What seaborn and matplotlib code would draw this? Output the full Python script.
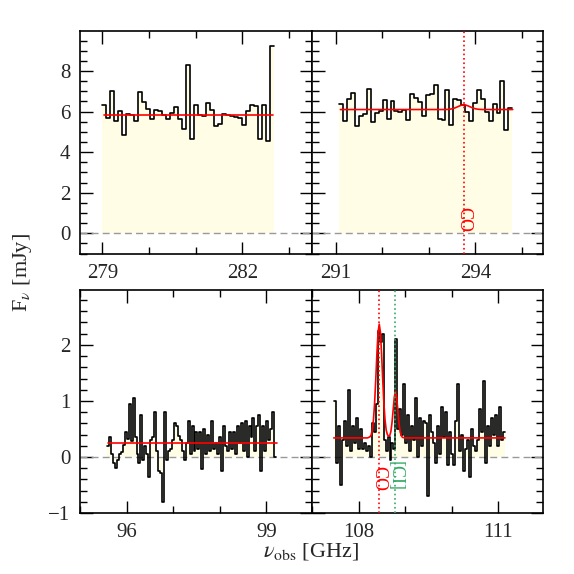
import numpy as np
import matplotlib
matplotlib.use('Agg')
import matplotlib.pyplot as plt
import seaborn as sns
from matplotlib.ticker import MultipleLocator

# --- top left: 279-283 GHz ---
tl_start, tl_width = 279.0, 0.0856
tl_flux = [6.32, 5.69, 7.01, 5.52, 6.05, 4.82, 5.88, 5.85, 5.52, 6.96, 6.47,
           6.15, 5.61, 6.10, 6.02, 5.85, 5.62, 5.95, 6.24, 5.62, 5.12, 8.28,
           4.65, 6.32, 5.85, 5.78, 6.40, 6.10, 5.27, 5.38, 5.86, 5.82, 5.76,
           5.75, 5.68, 5.35, 6.05, 6.32, 6.25, 4.65, 6.30, 4.57, 9.23]
tl_model_freq = [279.03, 282.66]
tl_model_flux = [5.81, 5.81]

# --- top right: 291-295 GHz ---
tr_start, tr_width = 291.08, 0.0843
tr_flux = [6.35, 5.53, 6.63, 6.89, 5.28, 5.77, 5.90, 7.09, 5.50, 5.94, 6.02,
           6.57, 5.61, 6.52, 6.02, 5.97, 6.07, 5.57, 6.85, 6.68, 6.47, 5.77,
           6.80, 6.85, 7.29, 5.65, 5.60, 7.05, 5.35, 6.60, 6.55, 6.30, 5.97,
           5.55, 6.40, 7.06, 6.60, 5.98, 5.52, 6.35, 5.95, 7.50, 5.10, 6.18]
tr_model_freq = [291.10, 293.35, 293.40, 293.45, 293.50, 293.55, 293.60, 293.65,
                 293.70, 293.75, 293.80, 293.85, 293.90, 293.95, 294.00, 294.05,
                 294.10, 294.15, 294.80]
tr_model_flux = [6.10, 6.10, 6.106, 6.116, 6.136, 6.17, 6.218, 6.27,
                 6.314, 6.33, 6.314, 6.27, 6.218, 6.17, 6.136, 6.116,
                 6.106, 6.10, 6.10]
tr_co = 293.75

# --- bottom left: 95-100 GHz ---
bl_start, bl_width = 95.58, 0.0422
bl_flux = [0.20, 0.36, 0.05, -0.10, -0.20, -0.05, 0.05, 0.08, 0.22, 0.45,
           0.32, 0.95, 0.28, 1.05, 0.35, 0.05, -0.10, 0.75, -0.05, 0.20,
           0.05, -0.35, 0.30, 0.35, 0.80, 0.10, -0.25, -0.28, -0.80, 0.80,
           -0.05, 0.10, 0.15, 0.30, 0.60, 0.55, 0.38, 0.30, 0.10, -0.05,
           0.25, 0.65, 0.05, 0.55, 0.10, 0.45, 0.15, 0.45, -0.22, 0.50,
           0.05, 0.40, 0.10, 0.65, 0.15, 0.25, 0.05, 0.35, -0.25, 0.55,
           0.20, 0.10, 0.45, 0.15, 0.45, 0.05, 0.55, 0.25, 0.60, 0.10,
           0.65, 0.00, 0.55, 0.35, 0.70, 0.10, 0.55, 0.75, -0.25, 0.55,
           0.10, 0.65, 0.30, 0.50, 0.80, 0.00]
bl_model_freq = [95.61, 99.22]
bl_model_flux = [0.25, 0.25]

# --- bottom right: 107-112 GHz ---
br_start, br_width = 107.46, 0.0429
br_flux = [1.00, -0.10, 0.55, -0.50, 0.30, 0.65, 0.20, 1.20, 0.10, 0.55,
           0.25, 0.70, 0.15, 0.50, 0.15, 0.25, 0.10, 0.20, 0.00, 0.60,
           0.45, 0.95, 2.25, 2.05, 2.20, 0.30, 0.10, 0.35, -0.05, 0.25,
           0.15, 2.10, 0.50, 0.85, 0.40, 1.30, 0.25, 0.75, 0.10, 0.55,
           0.30, 1.05, 0.00, 0.70, 0.20, 0.65, 0.60, -0.70, 0.75, 0.45,
           0.25, -0.10, 0.55, 0.05, 0.90, 0.35, 0.80, -0.15, 0.45, 0.05,
           -0.15, 0.65, 1.30, 0.10, 0.40, -0.25, 0.15, 0.30, -0.35, 0.50,
           0.20, 0.10, 0.30, 0.85, 0.45, 1.35, -0.10, 0.55, 0.20, 0.70,
           0.40, 0.75, 0.20, 0.90, 0.30, 0.45]
br_model_freq = [107.46, 108.19, 108.24, 108.265, 108.29, 108.315, 108.34,
                 108.365, 108.39, 108.415, 108.44, 108.465, 108.49, 108.515,
                 108.54, 108.565, 108.59, 108.615, 108.64, 108.665, 108.69,
                 108.715, 108.74, 108.765, 108.79, 108.815, 108.84, 108.865,
                 108.89, 108.915, 108.94, 108.99, 111.15]
br_model_flux = [0.34, 0.34, 0.36, 0.39, 0.48, 0.66, 0.96, 1.38, 1.85, 2.23,
                 2.37, 2.23, 1.85, 1.38, 0.96, 0.66, 0.48, 0.40, 0.37, 0.38,
                 0.45, 0.61, 0.84, 1.07, 1.17, 1.07, 0.84, 0.61, 0.45, 0.38,
                 0.35, 0.34, 0.34]
br_co = 108.44
br_ci = 108.79

fill_col = '#fffde6'
green = '#33aa66'

sns.set_style('ticks')
plt.rcParams['font.family'] = ['Liberation Serif', 'DejaVu Serif']
plt.rcParams['mathtext.fontset'] = 'stix'


def draw_panel(ax, start, width, flux, mfreq, mflux, xlim, ylim, ymaj, ymin):
    flux = np.asarray(flux)
    edges = start + width * np.arange(len(flux) + 1)
    ext = np.append(flux, flux[-1])
    ax.fill_between(edges, 0, ext, step='post', color=fill_col, lw=0, zorder=1)
    ax.axhline(0, color='#999999', ls=(0, (5, 3)), lw=1.0, zorder=2)
    sns.lineplot(x=edges, y=ext, drawstyle='steps-post', color='black',
                 lw=1.2, estimator=None, ax=ax, zorder=3)
    sns.lineplot(x=mfreq, y=mflux, color='red', lw=1.2, estimator=None,
                 ax=ax, zorder=4)
    ax.set_xlim(xlim)
    ax.set_ylim(ylim)
    ax.xaxis.set_major_locator(MultipleLocator(3))
    ax.xaxis.set_minor_locator(MultipleLocator(1))
    ax.yaxis.set_major_locator(MultipleLocator(ymaj))
    ax.yaxis.set_minor_locator(MultipleLocator(ymin))
    ax.tick_params(which='both', direction='in', top=True, right=True,
                   width=1.0, labelsize=15, color='black')
    ax.tick_params(which='major', length=9, pad=7)
    ax.tick_params(which='minor', length=5)
    for s in ax.spines.values():
        s.set_linewidth(1.2)
        s.set_color('black')
    ax.set_xlabel('')
    ax.set_ylabel('')


fig = plt.figure(figsize=(5.74, 5.74), dpi=100)
w, h = 0.4033, 0.3885
ax_tl = fig.add_axes([0.1394, 0.5575, w, h])
ax_tr = fig.add_axes([0.1394 + w, 0.5575, w, h])
ax_bl = fig.add_axes([0.1394, 0.1063, w, h])
ax_br = fig.add_axes([0.1394 + w, 0.1063, w, h])

draw_panel(ax_tl, tl_start, tl_width, tl_flux, tl_model_freq, tl_model_flux,
           (278.52, 283.48), (-1.02, 9.97), 2, 0.5)
draw_panel(ax_tr, tr_start, tr_width, tr_flux, tr_model_freq, tr_model_flux,
           (290.48, 295.45), (-1.02, 9.97), 2, 0.5)
draw_panel(ax_bl, bl_start, bl_width, bl_flux, bl_model_freq, bl_model_flux,
           (95.0, 99.97), (-1.0, 2.98), 1, 0.2)
draw_panel(ax_br, br_start, br_width, br_flux, br_model_freq, br_model_flux,
           (106.98, 111.97), (-1.0, 2.98), 1, 0.2)

ax_tr.tick_params(labelleft=False)
ax_br.tick_params(labelleft=False)

# line markers
ax_tr.axvline(tr_co, color='red', ls=':', lw=1.2, zorder=5)
ax_tr.text(tr_co, 0.05, 'CO', color='red', rotation=270, ha='center',
           va='bottom', fontsize=13)
ax_br.axvline(br_co, color='red', ls=':', lw=1.2, zorder=5)
ax_br.axvline(br_ci, color=green, ls=':', lw=1.2, zorder=5)
ax_br.text(br_co, -0.6, 'CO', color='red', rotation=270, ha='center',
           va='bottom', fontsize=13)
ax_br.text(br_ci, -0.6, '[CI]', color=green, rotation=270, ha='center',
           va='bottom', fontsize=13)

fig.text(0.04, 0.525, r'F$_\nu$ [mJy]', rotation=90, ha='center',
         va='center', fontsize=16)
fig.text(0.542, 0.04, r'$\nu_{\rm obs}$ [GHz]', ha='center', va='center',
         fontsize=16)

fig.savefig('out.png', dpi=100)
